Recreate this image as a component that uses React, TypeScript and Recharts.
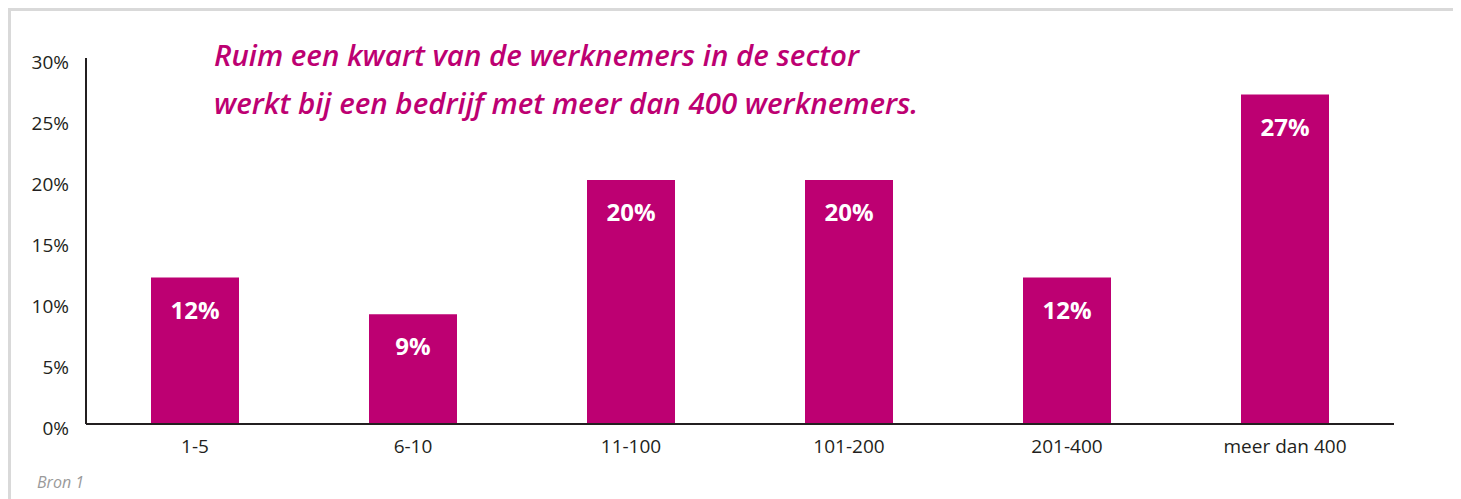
import { BarChart, Bar, XAxis, YAxis, LabelList } from "recharts";

const categories = ["1-5", "6-10", "11-100", "101-200", "201-400", "meer dan 400"];
const shares = [12, 9, 20, 20, 12, 27];
const yTicks = [0, 5, 10, 15, 20, 25, 30];

const data = categories.map((c, i) => ({ name: c, value: shares[i] }));

const FONT = "'Open Sans', Lato, sans-serif";
const MAGENTA = "#bd0072";

export default function App() {
  return (
    <div style={{ position: "relative", width: 1448, height: 491, fontFamily: FONT }}>
      <div
        style={{
          position: "absolute",
          left: 0,
          top: 0,
          width: 1448,
          height: 500,
          boxSizing: "border-box",
          borderTop: "3px solid #d9d9d9",
          borderLeft: "3px solid #d9d9d9",
          borderRight: "3px solid #d9d9d9",
        }}
      />
      <div style={{ position: "absolute", left: 0, top: 0 }}>
        <BarChart
          width={1448}
          height={491}
          data={data}
          margin={{ top: 50, right: 62, bottom: 45, left: 18 }}
          barSize={88}
        >
          <XAxis
            dataKey="name"
            axisLine={{ stroke: "#231f20", strokeWidth: 2 }}
            tickLine={false}
            tickMargin={10}
            height={30}
            tick={{ fontSize: 19, fill: "#231f20", fontFamily: FONT }}
          />
          <YAxis
            domain={[0, 30]}
            ticks={yTicks}
            interval={0}
            width={60}
            axisLine={{ stroke: "#231f20", strokeWidth: 2 }}
            tickLine={false}
            tickMargin={11}
            dy={4}
            tickFormatter={(v) => `${v}%`}
            tick={{ fontSize: 19, fill: "#231f20", fontFamily: FONT }}
          />
          <Bar dataKey="value" fill={MAGENTA} isAnimationActive={false}>
            <LabelList
              dataKey="value"
              position="insideTop"
              offset={24}
              formatter={(v) => `${v}%`}
              style={{ fill: "#fff", fontSize: 24, fontWeight: 700, fontFamily: FONT }}
            />
          </Bar>
        </BarChart>
      </div>
      <div
        style={{
          position: "absolute",
          left: 206,
          top: 23,
          color: MAGENTA,
          fontSize: 29.5,
          fontWeight: 600,
          fontStyle: "italic",
          lineHeight: "48px",
          whiteSpace: "nowrap",
        }}
      >
        Ruim een kwart van de werknemers in de sector
        <br />
        werkt bij een bedrijf met meer dan 400 werknemers.
      </div>
      <div
        style={{
          position: "absolute",
          left: 29,
          top: 463,
          color: "#9a9a9a",
          fontSize: 16,
          fontStyle: "italic",
        }}
      >
        Bron 1
      </div>
    </div>
  );
}
